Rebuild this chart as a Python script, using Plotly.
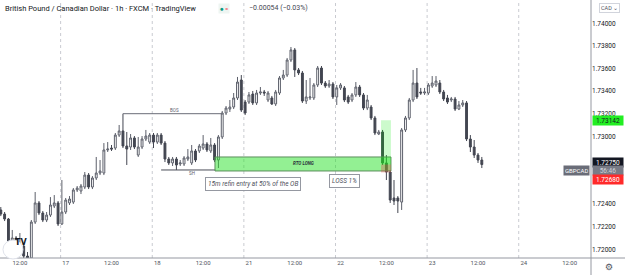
import plotly.graph_objects as go

# ---------------- data (GBPCAD 1h) ----------------
opens = [1.72348,1.72312,1.72268,1.72073,1.72100,1.71994,1.72029,1.71940,1.71923,1.72241,
         1.72410,1.72321,1.72259,1.72303,1.72383,1.72410,1.72224,1.72330,1.72410,1.72418,
         1.72525,1.72516,1.72551,1.72657,1.72551,1.72631,1.72675,1.72675,1.72879,1.72896,
         1.72896,1.73011,1.73047,1.72914,1.72905,1.72985,1.72834,1.72905,1.72976,1.72949,
         1.73011,1.72949,1.73011,1.72940,1.72799,1.72764,1.72799,1.72755,1.72755,1.72799,
         1.72764,1.72870,1.72870,1.72896,1.72932,1.72870,1.72923,1.72790,1.72994,1.73206,
         1.73241,1.73259,1.73339,1.73498,1.73303,1.73303,1.73374,1.73295,1.73383,1.73392,
         1.73321,1.73339,1.73286,1.73383,1.73516,1.73542,1.73675,1.73764,1.73587,1.73560,
         1.73312,1.73339,1.73339,1.73454,1.73604,1.73471,1.73445,1.73463,1.73348,1.73428,
         1.73428,1.73348,1.73321,1.73366,1.73436,1.73366,1.73250,1.73259,1.73162,1.73020,
         1.73038,1.72764,1.72684,1.72454,1.72454,1.72418,1.73056,1.73162,1.73321,1.73471,
         1.73392,1.73383,1.73383,1.73445,1.73454,1.73471,1.73392,1.73339,1.73321,1.73330,
         1.73241,1.73277,1.73295,1.72976,1.72905,1.72834,1.72790]
highs = [1.72374,1.72330,1.72277,1.72171,1.72117,1.72144,1.72046,1.71976,1.72259,1.72507,
         1.72427,1.72339,1.72330,1.72462,1.72480,1.72427,1.72613,1.72454,1.72471,1.72542,
         1.72560,1.72578,1.72684,1.72675,1.72648,1.72817,1.72790,1.72940,1.72949,1.72923,
         1.73029,1.73100,1.73200,1.73038,1.73020,1.73002,1.72994,1.73002,1.73056,1.73029,
         1.73029,1.73029,1.73029,1.72958,1.72817,1.72817,1.72817,1.72790,1.72825,1.72887,
         1.72923,1.72887,1.72932,1.73011,1.72949,1.72985,1.72940,1.73011,1.73224,1.73268,
         1.73321,1.73383,1.73525,1.73542,1.73321,1.73392,1.73401,1.73410,1.73436,1.73410,
         1.73401,1.73357,1.73410,1.73533,1.73587,1.73693,1.73790,1.73781,1.73604,1.73578,
         1.73498,1.73516,1.73471,1.73622,1.73622,1.73489,1.73498,1.73480,1.73454,1.73471,
         1.73445,1.73366,1.73383,1.73480,1.73454,1.73383,1.73366,1.73277,1.73180,1.73056,
         1.73056,1.72834,1.72702,1.72613,1.72471,1.73073,1.73180,1.73339,1.73587,1.73604,
         1.73428,1.73428,1.73471,1.73533,1.73533,1.73498,1.73410,1.73366,1.73348,1.73348,
         1.73312,1.73321,1.73312,1.73011,1.72967,1.72852,1.72817]
lows = [1.72294,1.72250,1.72055,1.72046,1.71976,1.71967,1.71905,1.71887,1.71887,1.72224,
        1.72303,1.72241,1.72241,1.72286,1.72365,1.72206,1.72215,1.72312,1.72392,1.72401,
        1.72507,1.72489,1.72533,1.72533,1.72533,1.72613,1.72657,1.72657,1.72861,1.72870,
        1.72879,1.72994,1.72896,1.72746,1.72879,1.72887,1.72817,1.72887,1.72958,1.72932,
        1.72896,1.72932,1.72923,1.72772,1.72746,1.72737,1.72702,1.72737,1.72737,1.72781,
        1.72746,1.72772,1.72852,1.72879,1.72861,1.72852,1.72772,1.72719,1.72976,1.73188,
        1.73215,1.73241,1.73321,1.73215,1.73188,1.73286,1.73277,1.73277,1.73366,1.73357,
        1.73303,1.73277,1.73268,1.73366,1.73498,1.73525,1.73657,1.73525,1.73542,1.73295,
        1.73286,1.73321,1.73321,1.73436,1.73454,1.73428,1.73428,1.73330,1.73277,1.73410,
        1.73303,1.73286,1.73303,1.73348,1.73348,1.73232,1.73232,1.73144,1.73011,1.73011,
        1.72746,1.72613,1.72410,1.72392,1.72321,1.72348,1.73038,1.73144,1.73303,1.73330,
        1.73366,1.73366,1.73366,1.73428,1.73436,1.73374,1.73312,1.73286,1.73303,1.73224,
        1.73232,1.73259,1.72958,1.72861,1.72808,1.72764,1.72719]
closes = [1.72312,1.72268,1.72073,1.72100,1.71994,1.72029,1.71940,1.71923,1.72241,1.72410,
          1.72321,1.72259,1.72303,1.72392,1.72410,1.72224,1.72330,1.72436,1.72445,1.72525,
          1.72542,1.72560,1.72657,1.72551,1.72631,1.72675,1.72693,1.72879,1.72887,1.72887,
          1.73011,1.73047,1.72914,1.72887,1.72985,1.72905,1.72905,1.72976,1.73002,1.73011,
          1.72949,1.73011,1.72940,1.72799,1.72764,1.72799,1.72746,1.72764,1.72808,1.72817,
          1.72870,1.72790,1.72914,1.72932,1.72879,1.72923,1.72790,1.72994,1.73206,1.73250,
          1.73259,1.73339,1.73480,1.73232,1.73206,1.73366,1.73295,1.73383,1.73392,1.73383,
          1.73383,1.73286,1.73392,1.73516,1.73542,1.73675,1.73764,1.73587,1.73560,1.73312,
          1.73348,1.73348,1.73454,1.73604,1.73471,1.73445,1.73463,1.73348,1.73428,1.73454,
          1.73321,1.73303,1.73366,1.73436,1.73366,1.73250,1.73321,1.73162,1.73029,1.73038,
          1.72764,1.72684,1.72436,1.72427,1.72427,1.73056,1.73162,1.73321,1.73471,1.73348,
          1.73383,1.73392,1.73454,1.73471,1.73489,1.73392,1.73330,1.73303,1.73330,1.73241,
          1.73277,1.73295,1.72976,1.72905,1.72834,1.72790,1.72750]

x_ticktext = ["12:00", "17", "12:00", "18", "12:00", "21", "12:00",
              "22", "12:00", "23", "12:00", "24", "12:00"]
# 1.72600 / 1.72800 are covered by the price labels in the reference
price_ticks = [1.720, 1.722, 1.724, 1.730, 1.732,
               1.734, 1.736, 1.738, 1.740, 1.742]

# drawing levels (prices) / anchors (bar index)
BOS_LEVEL = 1.73200
SH_LEVEL = 1.72702
ZONE_TOP, ZONE_BOT = 1.72817, 1.72693
TARGET, ENTRY, STOP = 1.73142, 1.72750, 1.72680
LAST_PRICE = closes[-1]

# ---------------- figure ----------------
W, H = 625, 275
PW, PH = 591, 258
FONT = "Roboto, Lato, sans-serif"

bars = list(range(len(opens)))
first_tick_bar = 5
x_tickvals = [first_tick_bar + 12 * k for k in range(len(x_ticktext))]

fig = go.Figure(go.Candlestick(
    x=bars, open=opens, high=highs, low=lows, close=closes,
    increasing=dict(fillcolor="#ffffff", line=dict(color="#5d606b", width=1)),
    decreasing=dict(fillcolor="#434651", line=dict(color="#434651", width=1)),
    whiskerwidth=0, showlegend=False, hoverinfo="skip",
))

def px(x):  # pixel -> paper x
    return x / PW

def py(y):  # pixel -> paper y
    return (PH - y) / PH

shapes = []
annos = []

# day separators (dotted)
for tv, tt in zip(x_tickvals, x_ticktext):
    if tt != "12:00":
        shapes.append(dict(type="line", xref="x", yref="paper", x0=tv - 1.33, x1=tv - 1.33,
                           y0=0, y1=1, line=dict(color="#c9cbd1", width=1, dash="dot"), layer="below"))

# BOS & SH lines
shapes.append(dict(type="line", xref="x", yref="y", x0=32, x1=58, y0=BOS_LEVEL, y1=BOS_LEVEL,
                   line=dict(color="#6a6d78", width=1)))
shapes.append(dict(type="line", xref="x", yref="y", x0=42, x1=56.2, y0=SH_LEVEL, y1=SH_LEVEL,
                   line=dict(color="#4a4d57", width=1)))
annos.append(dict(x=45.4, y=BOS_LEVEL, xref="x", yref="y", text="BOS", showarrow=False,
                  yanchor="bottom", yshift=-1, font=dict(size=4.5, color="#5d606b", family=FONT)))
annos.append(dict(x=50.1, y=SH_LEVEL, xref="x", yref="y", text="SH", showarrow=False,
                  yanchor="top", yshift=1, font=dict(size=4.5, color="#5d606b", family=FONT)))

# RTO zone
shapes.append(dict(type="rect", xref="x", yref="y", x0=56.1, x1=102.2, y0=ZONE_BOT, y1=ZONE_TOP,
                   fillcolor="rgba(40,225,40,0.5)", line=dict(color="#5b8f5b", width=1), layer="above"))
annos.append(dict(x=79.2, y=(ZONE_TOP + ZONE_BOT) / 2, xref="x", yref="y", text="<b><i>RTO LONG</i></b>",
                  showarrow=False, font=dict(size=4.5, color="#2a2e39", family=FONT)))

# long position tool (target / stop)
shapes.append(dict(type="rect", xref="x", yref="y", x0=99.6, x1=102.2, y0=ENTRY, y1=TARGET,
                   fillcolor="rgba(0,230,0,0.2)", line=dict(width=0), layer="above"))
shapes.append(dict(type="rect", xref="x", yref="y", x0=99.6, x1=102.2, y0=STOP, y1=ENTRY,
                   fillcolor="rgba(230,60,60,0.3)", line=dict(width=0), layer="above"))

# text boxes
annos.append(dict(x=66.1, y=1.72578, xref="x", yref="y", text="<i>15m refin entry at 50% of the OB</i>",
                  showarrow=False, bordercolor="#9598a1", borderwidth=1, borderpad=2, bgcolor="#ffffff",
                  font=dict(size=6.5, color="#50535e", family=FONT)))
annos.append(dict(x=89.9, y=1.72600, xref="x", yref="y", text="<i>LOSS 1%</i>",
                  showarrow=False, bordercolor="#9598a1", borderwidth=1, borderpad=2, bgcolor="#ffffff",
                  font=dict(size=6.5, color="#50535e", family=FONT)))

# frame lines
shapes.append(dict(type="line", xref="paper", yref="paper", x0=1, x1=1, y0=-17 / PH, y1=1,
                   line=dict(color="#9598a1", width=1)))
shapes.append(dict(type="line", xref="paper", yref="paper", x0=0, x1=W / PW, y0=0, y1=0,
                   line=dict(color="#9598a1", width=1)))

# header
annos.append(dict(x=px(3), y=py(8), xref="paper", yref="paper", xanchor="left", yanchor="middle",
                  text="British Pound / Canadian Dollar · 1h · FXCM · TradingView", showarrow=False,
                  font=dict(size=7.5, color="#131722", family=FONT)))
annos.append(dict(x=px(218), y=py(8), xref="paper", yref="paper", xanchor="left", yanchor="middle",
                  text="<span style='color:#089981'>●</span> <span style='color:#f23645'>=</span>",
                  showarrow=False, bgcolor="#eef5f2", borderpad=1,
                  font=dict(size=6, color="#089981", family=FONT)))
annos.append(dict(x=px(247), y=py(8), xref="paper", yref="paper", xanchor="left", yanchor="middle",
                  text="−0.00054 (−0.03%)", showarrow=False,
                  font=dict(size=7, color="#434651", family=FONT)))

# right axis labels (stacked like the reference so they do not overlap)
def axis_label(ypix, text, bg, fg):
    annos.append(dict(x=1, y=py(ypix), xref="paper", yref="paper", xanchor="left", yanchor="middle",
                      text=text, showarrow=False, bgcolor=bg, borderpad=1, width=28, height=7, xshift=1,
                      font=dict(size=6.5, color=fg, family=FONT)))

axis_label(121, "1.73142", "#22ee22", "#131722")
axis_label(162, "1.72750", "#131722", "#ffffff")
axis_label(170.5, "56:46", "#787b86", "#d1d4dc")
axis_label(179, "1.72680", "#ff2a2a", "#ffffff")
annos.append(dict(x=1, y=py(170.5), xref="paper", yref="paper", xanchor="right", yanchor="middle",
                  text="GBPCAD", showarrow=False, bgcolor="#6a6d78", borderpad=1, height=7, xshift=-1,
                  font=dict(size=6, color="#ffffff", family=FONT)))
annos.append(dict(x=px(609), y=py(8), xref="paper", yref="paper", xanchor="center", yanchor="middle",
                  text="CAD ⌄", showarrow=False, bgcolor="#ffffff", bordercolor="#d1d4dc", borderwidth=1,
                  borderpad=1, font=dict(size=5.5, color="#50535e", family=FONT)))
annos.append(dict(x=px(609), y=py(267), xref="paper", yref="paper", xanchor="center", yanchor="middle",
                  text="⚙", showarrow=False, font=dict(size=9, color="#50535e", family="DejaVu Sans")))

# TV logo
shapes.append(dict(type="circle", xref="paper", yref="paper", x0=px(3), x1=px(23), y0=py(259), y1=py(240),
                   fillcolor="#ffffff", line=dict(color="#e0e3eb", width=1), layer="above"))
annos.append(dict(x=px(13), y=py(249.5), xref="paper", yref="paper", text="<b>TV</b>", showarrow=False,
                  font=dict(size=8, color="#131722", family="DejaVu Sans")))

fig.update_layout(
    width=W, height=H, margin=dict(l=0, r=W - PW, t=0, b=H - PH),
    paper_bgcolor="#ffffff", plot_bgcolor="#ffffff",
    shapes=shapes, annotations=annos, showlegend=False,
    xaxis=dict(range=[-0.21, 154.6], tickvals=x_tickvals, ticktext=x_ticktext,
               showgrid=False, zeroline=False, showline=False, ticks="",
               rangeslider=dict(visible=False), fixedrange=True,
               tickfont=dict(size=6, color="#50535e", family=FONT)),
    yaxis=dict(side="right", range=[1.71923, 1.74206], tickvals=price_ticks,
               ticktext=[f"{v:.5f}" for v in price_ticks], showgrid=False, zeroline=False,
               showline=False, ticks="", fixedrange=True,
               tickfont=dict(size=6.5, color="#131722", family=FONT)),
)

fig.write_html("out.html")
